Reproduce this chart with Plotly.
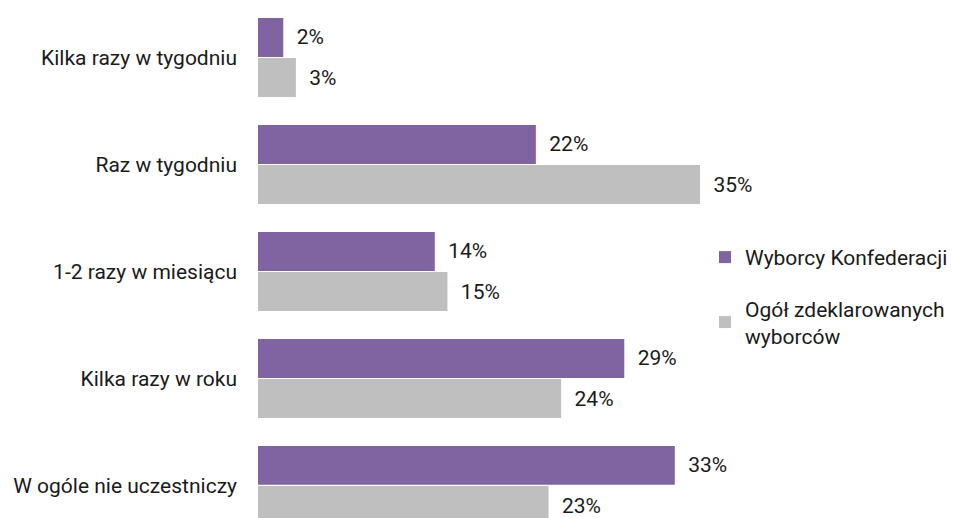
import plotly.graph_objects as go

categories = ["Kilka razy w tygodniu", "Raz w tygodniu", "1-2 razy w miesiącu",
              "Kilka razy w roku", "W ogóle nie uczestniczy"]
konf = [2, 22, 14, 29, 33]
ogol = [3, 35, 15, 24, 23]
series_names = ["Wyborcy Konfederacji", "Ogół zdeklarowanych<br>wyborców"]
colors = ["#8064A2", "#BFBFBF"]

FONT = "Roboto, Arial, sans-serif"
FS = 21
fig = go.Figure()
for name, vals, col, grp in [(series_names[0], konf, colors[0], "a"),
                              (series_names[1], ogol, colors[1], "b")]:
    fig.add_trace(go.Bar(
        y=categories, x=vals, orientation="h", name=name,
        marker=dict(color=col, line=dict(width=0)),
        text=[f"\u00a0\u00a0{v}%" for v in vals],
        textposition="outside", cliponaxis=False,
        textfont=dict(family=FONT, size=FS, color="#1a1a1a"),
        legendgroup=grp, hoverinfo="skip",
    ))

fig.update_layout(
    width=953, height=518,
    margin=dict(l=258, r=234, t=4, b=0, pad=0),
    paper_bgcolor="white", plot_bgcolor="white",
    barmode="group", bargap=0.25, bargroupgap=0.03,
    font=dict(family=FONT, size=FS, color="#1a1a1a"),
    xaxis=dict(range=[0, 36.5], visible=False, fixedrange=True),
    yaxis=dict(range=[4.304, -0.5], showgrid=False, zeroline=False, showline=False,
               ticks="", ticklabelstandoff=20, fixedrange=True,
               tickfont=dict(family=FONT, size=FS, color="#1a1a1a")),
    legend=dict(x=0.97, y=0.431, xanchor="left", yanchor="middle",
                itemwidth=30, traceorder="grouped", tracegroupgap=21,
                font=dict(family=FONT, size=FS, color="#1a1a1a"),
                bgcolor="rgba(0,0,0,0)"),
    showlegend=True,
)
fig.write_html("out.html", config={"displayModeBar": False},
               post_script="document.body.style.margin='0';document.body.style.padding='0';")
